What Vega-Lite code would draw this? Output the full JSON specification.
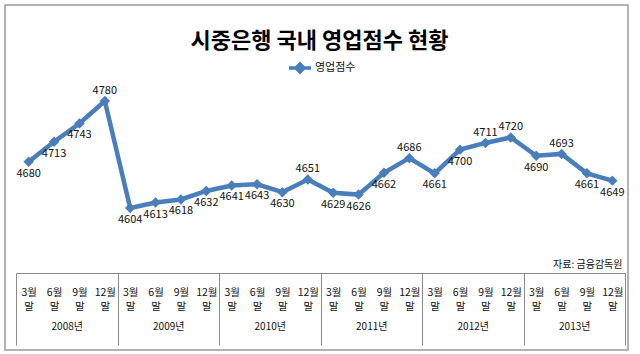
{
  "$schema": "https://vega.github.io/schema/vega-lite/v6.json",
  "width": 623,
  "height": 345,
  "autosize": {"type": "none"},
  "padding": {"left": 5, "top": 5, "right": 12, "bottom": 4},
  "background": "white",
  "config": {
    "view": {"stroke": "#9a9a9a", "strokeWidth": 1.5},
    "font": "Noto Sans CJK KR"
  },
  "title": {
    "text": "시중은행 국내 영업점수 현황",
    "fontSize": 22,
    "fontWeight": "bold",
    "color": "#000000",
    "anchor": "middle",
    "frame": "group",
    "baseline": "alphabetic",
    "offset": -65,
    "dx": 3
  },
  "data": {
    "values": [
      {"period": "2008-3", "year": "2008년", "value": 4680},
      {"period": "2008-6", "year": "2008년", "value": 4713},
      {"period": "2008-9", "year": "2008년", "value": 4743},
      {"period": "2008-12", "year": "2008년", "value": 4780},
      {"period": "2009-3", "year": "2009년", "value": 4604},
      {"period": "2009-6", "year": "2009년", "value": 4613},
      {"period": "2009-9", "year": "2009년", "value": 4618},
      {"period": "2009-12", "year": "2009년", "value": 4632},
      {"period": "2010-3", "year": "2010년", "value": 4641},
      {"period": "2010-6", "year": "2010년", "value": 4643},
      {"period": "2010-9", "year": "2010년", "value": 4630},
      {"period": "2010-12", "year": "2010년", "value": 4651},
      {"period": "2011-3", "year": "2011년", "value": 4629},
      {"period": "2011-6", "year": "2011년", "value": 4626},
      {"period": "2011-9", "year": "2011년", "value": 4662},
      {"period": "2011-12", "year": "2011년", "value": 4686},
      {"period": "2012-3", "year": "2012년", "value": 4661},
      {"period": "2012-6", "year": "2012년", "value": 4700},
      {"period": "2012-9", "year": "2012년", "value": 4711},
      {"period": "2012-12", "year": "2012년", "value": 4720},
      {"period": "2013-3", "year": "2013년", "value": 4690},
      {"period": "2013-6", "year": "2013년", "value": 4693},
      {"period": "2013-9", "year": "2013년", "value": 4661},
      {"period": "2013-12", "year": "2013년", "value": 4649}
    ]
  },
  "layer": [
    {
      "encoding": {
        "x": {
          "field": "period",
          "type": "ordinal",
          "sort": null,
          "scale": {"type": "point", "range": [11, 620], "padding": 0.5},
          "axis": {
            "orient": "bottom",
            "offset": -77,
            "domain": true,
            "domainColor": "#8a8a8a",
            "domainWidth": 1,
            "ticks": false,
            "tickSize": 0,
            "grid": false,
            "labelAngle": 0,
            "labelPadding": 14,
            "labelFontSize": 10.5,
            "labelLineHeight": 14,
            "labelColor": "#111111",
            "labelExpr": "[split(datum.value, '-')[1] + '월', '말']",
            "title": "자료: 금융감독원",
            "titleFontSize": 10,
            "titleFontWeight": "normal",
            "titleColor": "#111111",
            "titleX": 617,
            "titleY": -9,
            "titleAlign": "right",
            "titleBaseline": "middle",
            "titleAngle": 0
          }
        },
        "y": {
          "field": "value",
          "type": "quantitative",
          "scale": {"domain": [4370.4, 4937.9], "nice": false, "zero": false},
          "axis": null
        }
      },
      "layer": [
        {
          "mark": {
            "type": "line",
            "strokeWidth": 4.5,
            "point": {"shape": "diamond", "size": 110, "filled": true}
          },
          "encoding": {
            "color": {
              "datum": "영업점수",
              "scale": {"range": ["#4a7ebb"]},
              "legend": {
                "title": null,
                "orient": "none",
                "legendX": 282,
                "legendY": 50,
                "padding": 0,
                "symbolType": "M-1,0H1M0,-0.36L0.36,0L0,0.36L-0.36,0Z",
                "symbolSize": 484,
                "symbolStrokeWidth": 3.5,
                "symbolFillColor": "#4a7ebb",
                "symbolStrokeColor": "#4a7ebb",
                "labelFontSize": 11,
                "labelColor": "#111111",
                "labelOffset": 2
              }
            }
          }
        },
        {
          "transform": [
            {"filter": {"not": {"field": "period", "oneOf": ["2008-12", "2010-12", "2011-12", "2012-9", "2012-12", "2013-6"]}}}
          ],
          "mark": {"type": "text", "dy": 12, "fontSize": 11, "color": "#111111", "baseline": "middle"},
          "encoding": {"text": {"field": "value", "type": "quantitative", "format": "d"}}
        },
        {
          "transform": [
            {"filter": {"field": "period", "oneOf": ["2008-12", "2010-12", "2011-12", "2012-9", "2012-12", "2013-6"]}}
          ],
          "mark": {"type": "text", "dy": -10, "fontSize": 11, "color": "#111111", "baseline": "middle"},
          "encoding": {"text": {"field": "value", "type": "quantitative", "format": "d"}}
        }
      ]
    },
    {
      "mark": {"type": "point", "opacity": 0},
      "encoding": {
        "x": {
          "field": "year",
          "type": "ordinal",
          "sort": null,
          "scale": {"type": "band", "range": [11, 620], "paddingInner": 0, "paddingOuter": 0},
          "axis": {
            "orient": "bottom",
            "offset": -77,
            "domain": false,
            "ticks": true,
            "tickBand": "extent",
            "tickSize": 72,
            "tickColor": "#8a8a8a",
            "tickWidth": 1,
            "grid": false,
            "labelAngle": 0,
            "labelPadding": -24,
            "labelFontSize": 10,
            "labelColor": "#111111",
            "title": null
          }
        }
      }
    }
  ],
  "resolve": {"scale": {"x": "independent"}, "axis": {"x": "independent"}}
}
